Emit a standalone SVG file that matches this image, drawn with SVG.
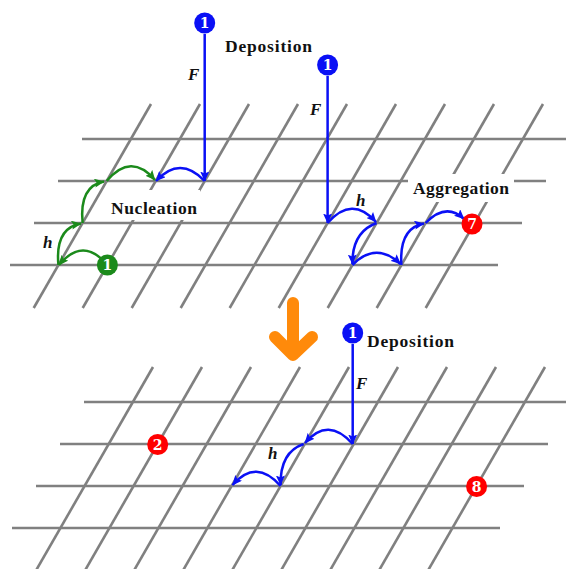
<svg xmlns="http://www.w3.org/2000/svg" width="566" height="569" viewBox="0 0 566 569">
<style>
.g line{stroke:#808080;stroke-width:2.6;}
.lbl{font-family:"Liberation Serif","DejaVu Serif",serif;font-weight:bold;font-size:17.5px;fill:#111;}
.var{font-family:"Liberation Serif","DejaVu Serif",serif;font-weight:bold;font-style:italic;font-size:17px;fill:#111;}
.num{font-family:"DejaVu Serif","Liberation Serif",serif;font-weight:bold;font-size:14px;fill:#fff;text-anchor:middle;}
.b{fill:none;stroke:#0a10f5;stroke-width:2.5;marker-end:url(#ab);}
.gr{fill:none;stroke:#1b8a1b;stroke-width:2.5;marker-end:url(#ag);}
</style>
<defs>
<marker id="ab" markerUnits="userSpaceOnUse" markerWidth="11" markerHeight="9" refX="9.5" refY="4.5" orient="auto"><path d="M0,0 L10,4.5 L0,9 L2,4.5 z" fill="#0a10f5"/></marker>
<marker id="ag" markerUnits="userSpaceOnUse" markerWidth="11" markerHeight="9" refX="9.5" refY="4.5" orient="auto"><path d="M0,0 L10,4.5 L0,9 L2,4.5 z" fill="#1b8a1b"/></marker>
</defs>
<rect width="566" height="569" fill="#fff"/>
<g id="grid-top" class="g">
<line x1="82" y1="139" x2="568" y2="139"/>
<line x1="58" y1="181" x2="546" y2="181"/>
<line x1="34" y1="223" x2="522" y2="223"/>
<line x1="10" y1="265" x2="498" y2="265"/>
<line x1="151" y1="104" x2="33.7" y2="308"/>
<line x1="200" y1="104" x2="82.7" y2="308"/>
<line x1="249" y1="104" x2="131.7" y2="308"/>
<line x1="298" y1="104" x2="180.7" y2="308"/>
<line x1="347" y1="104" x2="229.7" y2="308"/>
<line x1="396" y1="104" x2="278.7" y2="308"/>
<line x1="445" y1="104" x2="327.7" y2="308"/>
<line x1="494" y1="104" x2="376.7" y2="308"/>
<line x1="543" y1="104" x2="425.7" y2="308"/>
</g>
<g id="grid-bottom" class="g">
<line x1="84" y1="402" x2="570" y2="402"/>
<line x1="60" y1="444" x2="548" y2="444"/>
<line x1="36" y1="486" x2="524" y2="486"/>
<line x1="12" y1="528" x2="500" y2="528"/>
<line x1="153" y1="367" x2="35.7" y2="571"/>
<line x1="202" y1="367" x2="84.7" y2="571"/>
<line x1="251" y1="367" x2="133.7" y2="571"/>
<line x1="300" y1="367" x2="182.7" y2="571"/>
<line x1="349" y1="367" x2="231.7" y2="571"/>
<line x1="398" y1="367" x2="280.7" y2="571"/>
<line x1="447" y1="367" x2="329.7" y2="571"/>
<line x1="496" y1="367" x2="378.7" y2="571"/>
<line x1="545" y1="367" x2="427.7" y2="571"/>
</g>
<g id="labels">
<text class="lbl" x="225" y="51.5" textLength="87">Deposition</text>
<rect x="104" y="190" width="96" height="30" fill="#fff"/>
<text class="lbl" x="111" y="213.5" textLength="86">Nucleation</text>
<rect x="408" y="174" width="106" height="28" fill="#fff"/>
<text class="lbl" x="413" y="193.5" textLength="96">Aggregation</text>
<text class="lbl" x="367" y="346.5" textLength="87">Deposition</text>
<text class="var" x="188" y="80">F</text>
<text class="var" x="310" y="115">F</text>
<text class="var" x="356" y="389">F</text>
<text class="var" x="43" y="247.5">h</text>
<text class="var" x="356" y="206">h</text>
<text class="var" x="268" y="459">h</text>
</g>
<g id="connectors">
<path class="b" d="M204.7,34 L204.7,181"/>
<path class="b" d="M204.7,181 Q180,155 156,181"/>
<path class="gr" d="M107.4,265 Q83,236 59,265"/>
<path class="gr" d="M58.4,265 Q55,228 81,223.5"/>
<path class="gr" d="M82.6,223 Q79,186 104,181.5"/>
<path class="gr" d="M106.7,181 Q131,152 155,180"/>
<path class="b" d="M327.6,76 L327.6,223"/>
<path class="b" d="M327.6,223 Q352,195 376,222"/>
<path class="b" d="M376.6,223 Q352,232 352.4,264"/>
<path class="b" d="M352.4,265 Q376,241 400.5,264"/>
<path class="b" d="M401.4,265 Q399,228 424,223.5"/>
<path class="b" d="M425.6,223 Q446,202 464,219"/>
<path class="b" d="M352.7,344 L352.7,444"/>
<path class="b" d="M352.7,444 Q328,416 305,443"/>
<path class="b" d="M303.7,444 Q280,452 280.6,485"/>
<path class="b" d="M280.6,486 Q256,458 232.5,485"/>
<path id="big-arrow" d="M293,303 L293,352 M275,337 L293,355 L312,337" fill="none" stroke="#ff8a0a" stroke-width="12" stroke-linecap="round" stroke-linejoin="round"/>
</g>
<g id="n-blue1"><circle cx="204.7" cy="23" r="10.5" fill="#0a10f5"/><text class="num" x="204.7" y="28">1</text></g>
<g id="n-blue2"><circle cx="327.6" cy="65" r="10.5" fill="#0a10f5"/><text class="num" x="327.6" y="70">1</text></g>
<g id="n-green1"><circle cx="107.4" cy="265" r="10.5" fill="#1b8a1b"/><text class="num" x="107.4" y="270">1</text></g>
<g id="n-red7"><circle cx="472" cy="224" r="10.5" fill="#f00"/><text class="num" x="472" y="229">7</text></g>
<g id="n-blue3"><circle cx="352.7" cy="333" r="10.5" fill="#0a10f5"/><text class="num" x="352.7" y="338">1</text></g>
<g id="n-red2"><circle cx="157.7" cy="444.5" r="10.5" fill="#f00"/><text class="num" x="157.7" y="449.5">2</text></g>
<g id="n-red8"><circle cx="476.6" cy="486.5" r="10.5" fill="#f00"/><text class="num" x="476.6" y="491.5">8</text></g>
</svg>
